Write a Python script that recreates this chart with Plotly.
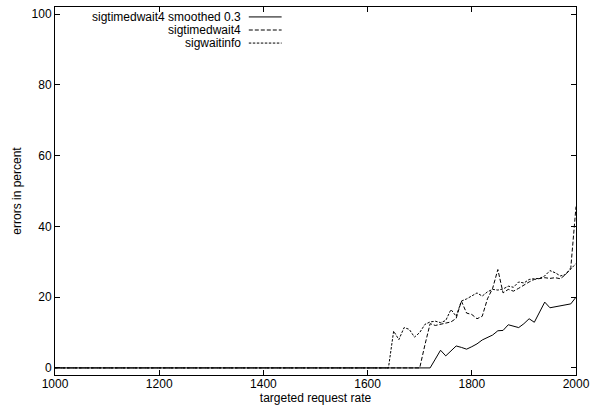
import plotly.graph_objects as go

# x grid (targeted request rate), step 10
rate = list(range(1000, 2001, 10))

# values from 1640 .. 2000 (earlier values are 0)
sigwaitinfo_tail = [0, 10.4, 8, 11.4, 10.9, 8.7, 10, 12.3, 13, 13.2,
                    12.8, 13.4, 16.5, 14.6, 18.9, 19.5, 20.3, 21.2, 20.3, 21.5,
                    22.2, 22, 22.3, 23.1, 22.8, 24.3, 24, 25, 25.2, 25.3,
                    26, 27.5, 26.9, 26, 26.4, 28, 29.5]
# values from 1700 .. 2000
sigtimedwait4_tail = [0, 6.5, 12.5, 12, 12.3, 12.5, 13, 14, 18.9, 15.5,
                      15.1, 13.9, 14.6, 19.5, 22.5, 27.8, 21.2, 22.2, 21.7, 22.5,
                      23.5, 24.3, 25, 25.2, 25.5, 25.3, 25.5, 25.2, 26.4, 28.3,
                      45.6]
smoothed_tail = [0, 0, 0, 2.5, 5, 3.4, 4.8, 6.2, 5.8, 5.3,
                 6, 6.8, 7.9, 8.5, 9.3, 10.5, 10.6, 12.2, 11.9, 11.4,
                 12.5, 13.9, 12.9, 15.8, 18.6, 17, 17.3, 17.7, 17.9, 18.1,
                 20]

sigwaitinfo = [0] * (len(rate) - len(sigwaitinfo_tail)) + sigwaitinfo_tail
sigtimedwait4 = [0] * (len(rate) - len(sigtimedwait4_tail)) + sigtimedwait4_tail
smoothed = [0] * (len(rate) - len(smoothed_tail)) + smoothed_tail

series_names = ["sigtimedwait4 smoothed 0.3", "sigtimedwait4", "sigwaitinfo"]
series_vals = [smoothed, sigtimedwait4, sigwaitinfo]
dashes = ["solid", "4px,2px", "2.5px,1.5px"]

x_ticks = [1000, 1200, 1400, 1600, 1800, 2000]
y_ticks = [0, 20, 40, 60, 80, 100]

FS = 12

fig = go.Figure()
for name, vals, d in zip(series_names, series_vals, dashes):
    fig.add_trace(go.Scatter(x=rate, y=vals, mode="lines", name=name,
                             line=dict(color="black", width=1, dash=d),
                             showlegend=False))

# gnuplot-style legend: right-aligned text, key sample to the right
ys = [0.973, 0.9375, 0.902]
for name, d, yy in zip(series_names, dashes, ys):
    fig.add_annotation(xref="paper", yref="paper", x=0.358, y=yy, text=name,
                       showarrow=False, xanchor="right", yanchor="middle",
                       borderpad=0, font=dict(size=FS, color="black"))
    fig.add_shape(type="line", xref="paper", yref="paper",
                  x0=0.372, x1=0.435, y0=yy, y1=yy,
                  line=dict(color="black", width=1, dash=d))

axis_common = dict(showline=True, linecolor="black", linewidth=1, mirror="ticks",
                   ticks="inside", ticklen=5, tickcolor="black", tickwidth=1,
                   showgrid=False, zeroline=False, automargin=False,
                   tickfont=dict(size=FS, color="black"))

fig.update_layout(
    width=590, height=410,
    margin=dict(l=55, r=14, t=7, b=35, autoexpand=False),
    paper_bgcolor="white", plot_bgcolor="white",
    font=dict(family="Liberation Sans, Arial, sans-serif", size=FS, color="black"),
    xaxis=dict(range=[1000, 2000], tickvals=x_ticks, ticklabelstandoff=-2,
               title=dict(text="targeted request rate", standoff=1, font=dict(size=FS)),
               **axis_common),
    yaxis=dict(range=[-2, 102], tickvals=y_ticks,
               title=dict(text="errors in percent", standoff=7, font=dict(size=FS)),
               **axis_common),
)

fig.write_html("out.html", config={"displayModeBar": False},
               post_script="document.body.style.margin='0';document.body.style.padding='0';")
